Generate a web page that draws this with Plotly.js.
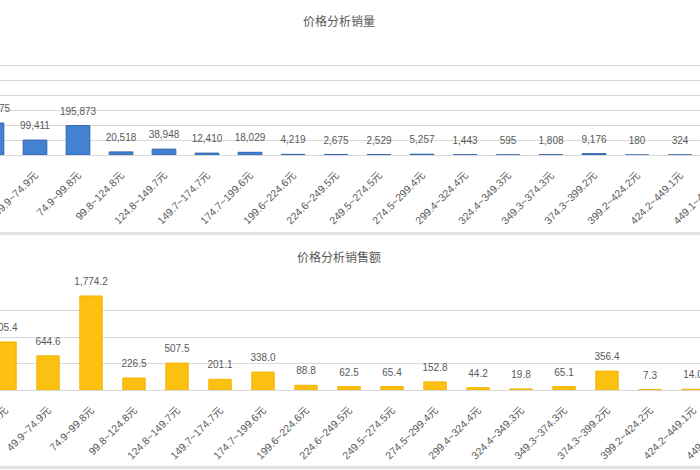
<!DOCTYPE html>
<html>
<head>
<meta charset="utf-8">
<script src="https://cdn.plot.ly/plotly-3.0.1.min.js"></script>
<style>
  html, body { margin: 0; padding: 0; background: #fff; overflow: hidden; width: 700px; height: 470px; }
  #volChart { position: absolute; left: -60px; top: 0; width: 820px; height: 232px; }
  #amtChart { position: absolute; left: -60px; top: 236px; width: 820px; height: 234px; }
  .frame { position: absolute; left: 0; width: 700px; height: 3px; background: #e2e2e2; }
</style>
</head>
<body>
<div id="volChart"></div>
<div class="frame" style="top:232px"></div>
<div id="amtChart"></div>
<div class="frame" style="top:466px"></div>
<script>
// price bins (the chart is cropped: first and last bins run off the picture)
const priceBins = [
  '25.0~49.9元', '49.9~74.9元', '74.9~99.8元', '99.8~124.8元', '124.8~149.7元',
  '149.7~174.7元', '174.7~199.6元', '199.6~224.6元', '224.6~249.5元', '249.5~274.5元',
  '274.5~299.4元', '299.4~324.4元', '324.4~349.3元', '349.3~374.3元', '374.3~399.2元',
  '399.2~424.2元', '424.2~449.1元', '449.1~474.1元'
]
// 销量 (units)
const salesVolume = [213075, 99411, 195873, 20518, 38948, 12410, 18029, 4219, 2675,
  2529, 5257, 1443, 595, 1808, 9176, 180, 324, null]
// 销售额
const salesAmount = [905.4, 644.6, 1774.2, 226.5, 507.5, 201.1, 338.0, 88.8, 62.5,
  65.4, 152.8, 44.2, 19.8, 65.1, 356.4, 7.3, 14.0, null]

const fontFam = '"Liberation Sans", "Noto Sans CJK SC", sans-serif'
const grey = '#595959'

function makeLayout(title, yMax, yStep, xRange, mTop, mBottom) {
  return {
    margin: {l: 20, r: 20, t: mTop, b: mBottom},
    paper_bgcolor: '#fff',
    plot_bgcolor: '#fff',
    showlegend: false,
    font: {family: fontFam, color: grey, size: 10},
    title: {
      text: title,
      font: {family: '"Noto Sans CJK SC", sans-serif', size: 12, color: grey},
      xref: 'paper', x: 0.486, xanchor: 'center',
      yref: 'container', y: 0.906, yanchor: 'middle'
    },
    xaxis: {
      type: 'category',
      range: xRange,
      tickangle: -45,
      tickfont: {size: 10.5, color: grey},
      ticklabelstandoff: 9,
      showline: true,
      linecolor: '#d9d9d9',
      ticks: '',
      showgrid: false
    },
    yaxis: {
      range: [0, yMax],
      dtick: yStep,
      showticklabels: false,
      gridcolor: '#d9d9d9',
      zeroline: false
    }
  }
}

// data labels sit a bit higher than plotly's "outside" text, like excel does
function labelTrace(vals, fmt) {
  return {
    x: priceBins,
    y: vals,
    type: 'scatter',
    mode: 'markers+text',
    marker: {size: 12, color: 'rgba(0,0,0,0)'},
    texttemplate: fmt,
    textposition: 'top center',
    textfont: {size: 10, color: grey, family: fontFam},
    cliponaxis: false,
    hoverinfo: 'skip'
  }
}

// 价格分析销量
let volTrace = {
  x: priceBins,
  y: salesVolume,
  type: 'bar',
  width: 0.55,
  marker: {color: '#4382d2', line: {color: '#2f63ad', width: 1}},
  hoverinfo: 'skip'
}
Plotly.newPlot('volChart', [volTrace, labelTrace(salesVolume, '%{y:,.0f}')],
  makeLayout('价格分析销量', 700000, 100000, [-0.744, 17.395], 50, 77),
  {staticPlot: true})

// 价格分析销售额
let amtTrace = {
  x: priceBins,
  y: salesAmount,
  type: 'bar',
  width: 0.52,
  marker: {color: '#fcc010', line: {color: '#f2b200', width: 1}},
  hoverinfo: 'skip'
}
Plotly.newPlot('amtChart', [amtTrace, labelTrace(salesAmount, '%{y:,.1f}')],
  makeLayout('价格分析销售额', 2000, 500, [-1.047, 17.093], 48, 80),
  {staticPlot: true})
</script>
</body>
</html>
